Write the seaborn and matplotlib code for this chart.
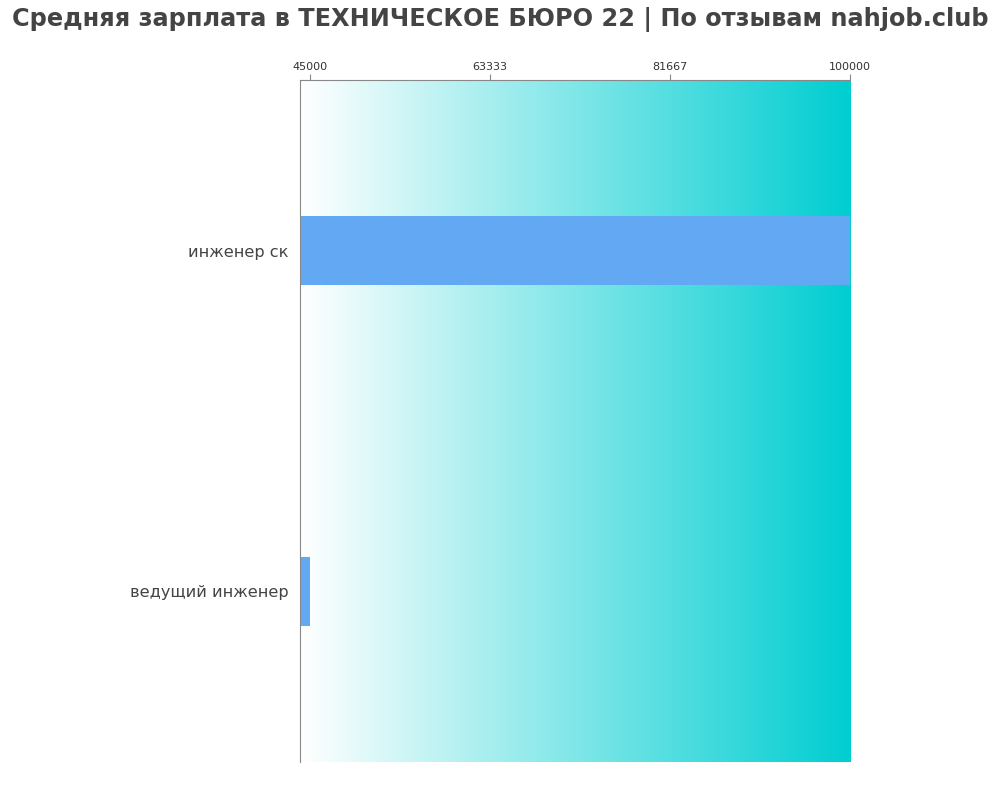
import numpy as np
import pandas as pd
import matplotlib
matplotlib.use("Agg")
import matplotlib.pyplot as plt
import seaborn as sns
from matplotlib.colors import LinearSegmentedColormap

# data
jobs = ["инженер ск", "ведущий инженер"]
salaries = [100000, 45000]
ticks = [45000, 63333, 81667, 100000]
title = "Средняя зарплата в ТЕХНИЧЕСКОЕ БЮРО 22 | По отзывам nahjob.club"

sns.set_style("white")
plt.rcParams['font.family'] = ['DejaVu Sans']

df = pd.DataFrame({"job": jobs, "salary": salaries})

fig = plt.figure(figsize=(10, 8), dpi=100)
ax = fig.add_axes([0.300, 0.0475, 0.550, 0.8525])

xmin, xmax = 44000, 100000
cmap = LinearSegmentedColormap.from_list("bg", ["#ffffff", "#00CED1"])
grad = np.linspace(0, 1, 256).reshape(1, -1)
ax.imshow(grad, aspect="auto", cmap=cmap, extent=[xmin, xmax, 1.5, -0.5], zorder=0)

sns.barplot(data=df, x="salary", y="job", orient="h", color="#63A8F2",
            width=0.2, saturation=1, linewidth=0, ax=ax, zorder=2)

ax.set_xlim(xmin, xmax)
ax.set_ylim(1.5, -0.5)
ax.set_xticks(ticks)
ax.set_xticklabels([str(t) for t in ticks], fontsize=8, color="#333333")
ax.xaxis.tick_top()
ax.tick_params(axis="x", length=4, color="#888888", pad=2, top=True, bottom=False)
ax.tick_params(axis="y", length=0, labelsize=11.6, labelcolor="#444444", pad=8)
ax.set_xlabel("")
ax.set_ylabel("")
for s in ["right", "bottom"]:
    ax.spines[s].set_visible(False)
for s in ["left", "top"]:
    ax.spines[s].set_color("#888888")
    ax.spines[s].set_linewidth(0.8)

fig.suptitle(title, fontsize=17.3, fontweight="bold", color="#444444",
             x=0.5, y=0.991, va="top")

fig.savefig("out.png", dpi=100)
